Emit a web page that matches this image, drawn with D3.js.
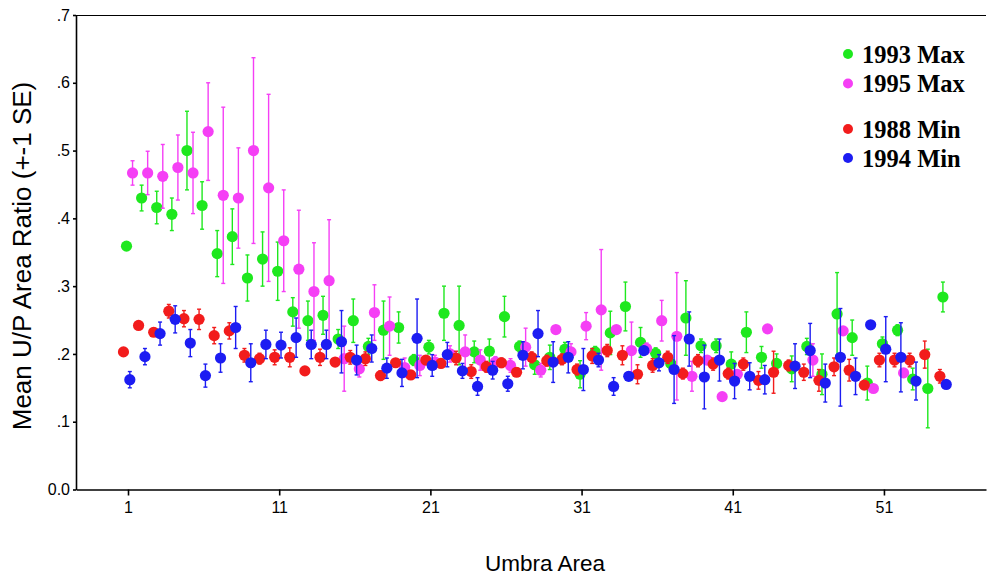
<!DOCTYPE html>
<html><head><meta charset="utf-8">
<script src="https://cdn.jsdelivr.net/npm/d3@7/dist/d3.min.js"></script>
<style>body{margin:0;background:#fff}svg{display:block}</style>
</head><body><svg id="c" width="994" height="577"></svg>
<script>
// ---------------- data ----------------
const categories = d3.range(1, 56);               // Umbra Area 1..55
const xTickValues = [1, 11, 21, 31, 41, 51];
const yTickValues = [0, 0.1, 0.2, 0.3, 0.4, 0.5, 0.6, 0.7];
const yTickLabels = ["0.0", ".1", ".2", ".3", ".4", ".5", ".6", ".7"];
const seriesNames = ["1993 Max", "1995 Max", "1988 Min", "1994 Min"];

const max1993 = [0.359,0.430,0.416,0.406,0.500,0.419,0.348,0.373,0.312,0.340,
  0.322,0.262,0.249,0.257,0.222,0.249,0.211,0.235,0.239,0.191,
  0.210,0.260,0.242,0.203,0.204,0.255,0.211,0.184,0.195,0.207,
  0.170,0.203,0.231,0.270,0.217,0.201,0.186,0.253,0.212,0.212,
  0.185,0.232,0.195,0.186,0.178,0.211,0.170,0.259,0.224,0.157,
  0.215,0.235,0.163,0.149,0.284];
const max1993SE = [0.006,0.019,0.024,0.024,0.058,0.035,0.034,0.041,0.034,0.040,
  0.043,0.021,0.029,0.028,0.014,0.032,0.012,0.043,0.023,0.008,
  0.010,0.040,0.058,0.016,0.018,0.030,0.008,0.014,0.018,0.010,
  0.020,0.008,0.032,0.036,0.022,0.008,0.008,0.055,0.010,0.010,
  0.018,0.030,0.016,0.014,0.019,0.012,0.030,0.061,0.026,0.025,
  0.010,0.008,0.016,0.058,0.022];

const max1995 = [0.467,0.467,0.462,0.475,0.467,0.528,0.434,0.430,0.500,0.445,
  0.367,0.325,0.292,0.308,0.193,0.178,0.261,0.241,0.180,0.183,
  0.188,0.200,0.203,0.191,0.188,0.183,0.210,0.176,0.236,0.203,
  0.241,0.265,0.236,0.205,0.208,0.249,0.226,0.167,0.191,0.137,
  0.170,null,0.237,null,null,0.191,null,0.234,null,0.149,
  null,0.172,null,null,null];
const max1995SE = [0.018,0.032,0.047,0.048,0.060,0.072,0.130,0.074,0.137,0.138,
  0.075,0.087,0.072,0.090,0.048,0.012,0.041,0.043,0.014,0.015,
  0.010,0.012,0.025,0.015,0.008,0.010,0.028,0.010,0.005,0.012,
  0.020,0.089,0.005,0.042,0.008,0.030,0.094,0.022,0.005,0.004,
  0.005,null,0.004,null,null,0.024,null,0.005,null,0.004,
  null,0.004,null,null,null];

const min1988 = [0.203,0.242,0.232,0.263,0.252,0.251,0.227,0.234,0.198,0.193,
  0.195,0.195,0.175,0.195,0.188,0.195,0.193,0.168,0.187,0.169,
  0.191,0.186,0.194,0.174,0.181,0.187,0.173,0.195,0.190,0.192,
  0.177,0.197,0.205,0.198,0.170,0.183,0.195,0.171,0.190,0.185,
  0.171,0.185,0.161,0.173,0.183,0.173,0.161,0.181,0.176,0.154,
  0.191,0.191,0.191,0.199,0.167];
const min1988SE = [0.004,0.005,0.006,0.010,0.012,0.015,0.012,0.012,0.010,0.008,
  0.011,0.014,0.006,0.012,0.006,0.010,0.010,0.007,0.006,0.006,
  0.006,0.006,0.010,0.010,0.008,0.007,0.006,0.008,0.008,0.008,
  0.008,0.011,0.009,0.014,0.014,0.010,0.009,0.008,0.009,0.009,
  0.008,0.009,0.013,0.031,0.008,0.012,0.016,0.013,0.016,0.006,
  0.010,0.010,0.010,0.020,0.010];

const min1994 = [0.162,0.196,0.230,0.251,0.216,0.168,0.194,0.239,0.187,0.214,
  0.213,0.224,0.214,0.214,0.218,0.191,0.208,0.179,0.172,0.223,
  0.183,0.199,0.175,0.152,0.176,0.156,0.198,0.230,0.188,0.195,
  0.177,0.191,0.152,0.167,0.205,0.187,0.177,0.222,0.166,0.191,
  0.160,0.167,0.162,null,0.182,0.205,0.157,0.195,0.167,0.243,
  0.207,0.195,0.160,null,0.155];
const min1994SE = [0.012,0.012,0.017,0.020,0.020,0.017,0.021,0.031,0.028,0.021,
  0.019,0.029,0.021,0.021,0.046,0.022,0.020,0.015,0.020,0.058,
  0.016,0.018,0.011,0.013,0.013,0.011,0.020,0.034,0.030,0.023,
  0.031,0.010,0.013,0.006,0.006,0.012,0.050,0.040,0.047,0.031,
  0.026,0.020,0.021,null,0.033,0.040,0.028,0.072,0.027,0.006,
  0.048,0.051,0.028,null,0.005];

// ---------------- styling / layout ----------------
const colors = {"1993 Max": "#1ee81e", "1995 Max": "#f53ff5", "1988 Min": "#f21c1c", "1994 Min": "#1c1cf2"};
const dodge = {"1988 Min": -0.30, "1993 Max": -0.10, "1994 Min": 0.12, "1995 Max": 0.30};
const series = [
  {name: "1993 Max", values: max1993, se: max1993SE},
  {name: "1995 Max", values: max1995, se: max1995SE},
  {name: "1988 Min", values: min1988, se: min1988SE},
  {name: "1994 Min", values: min1994, se: min1994SE}
];

const svg = d3.select("#c");
const L = 76, R = 986, T = 15, B = 489.5;
const x = d3.scaleLinear().domain([-2.44, 57.75]).range([L, R]);
const y = d3.scaleLinear().domain([0, 0.7]).range([B, T]);

// top border
svg.append("line").attr("x1", L).attr("x2", R).attr("y1", T + 0.5).attr("y2", T + 0.5)
  .attr("stroke", "#000").attr("stroke-width", 1);

// axes
const xAxis = svg.append("g").attr("transform", `translate(0,${B})`)
  .call(d3.axisBottom(x).tickValues(xTickValues).tickSize(6).tickSizeOuter(0).tickPadding(6).tickFormat(d3.format("d")));
const yAxis = svg.append("g").attr("transform", `translate(${L},0)`)
  .call(d3.axisLeft(y).tickValues(yTickValues).tickSize(3).tickSizeOuter(0).tickPadding(3)
    .tickFormat((d, i) => yTickLabels[i]));
[xAxis, yAxis].forEach(g => {
  g.selectAll("text").attr("font-family", "'Liberation Sans', Arial, sans-serif").attr("font-size", 16).attr("fill", "#000");
  g.selectAll("line, path").attr("stroke", "#000").attr("stroke-width", 1.6);
});

// titles
svg.append("text").attr("x", 545).attr("y", 571).attr("text-anchor", "middle")
  .attr("font-family", "'Liberation Sans', Arial, sans-serif").attr("font-size", 22.5).text("Umbra Area");
svg.append("text").attr("transform", "translate(31,256) rotate(-90)").attr("text-anchor", "middle")
  .attr("font-family", "'Liberation Sans', Arial, sans-serif").attr("font-size", 26).text("Mean U/P Area Ratio (+-1 SE)");

// marks
const plot = svg.append("g");
series.forEach(s => {
  const pts = categories.map((c, i) => ({c, v: s.values[i], e: s.se[i]})).filter(d => d.v != null);
  const g = plot.append("g");
  const col = colors[s.name];
  const px = d => x(d.c + dodge[s.name]);
  g.selectAll("line.eb").data(pts).join("line").attr("class", "eb")
    .attr("x1", px).attr("x2", px).attr("y1", d => y(d.v - d.e)).attr("y2", d => y(d.v + d.e))
    .attr("stroke", col).attr("stroke-width", 1.4);
  ["lo", "hi"].forEach(k => {
    g.selectAll("line.cap" + k).data(pts).join("line").attr("class", "cap" + k)
      .attr("x1", d => px(d) - 2).attr("x2", d => px(d) + 2)
      .attr("y1", d => y(k === "lo" ? d.v - d.e : d.v + d.e)).attr("y2", d => y(k === "lo" ? d.v - d.e : d.v + d.e))
      .attr("stroke", col).attr("stroke-width", 1.4);
  });
  g.selectAll("circle").data(pts).join("circle")
    .attr("cx", px).attr("cy", d => y(d.v)).attr("r", 5.6).attr("fill", col);
});

// legend
const legendY = [54, 83.5, 129, 158];
const leg = svg.append("g");
seriesNames.forEach((n, i) => {
  leg.append("circle").attr("cx", 848).attr("cy", legendY[i]).attr("r", 5).attr("fill", colors[n]);
  leg.append("text").attr("x", 862).attr("y", legendY[i] + 8.5)
    .attr("font-family", "'Liberation Serif', 'Times New Roman', serif").attr("font-weight", "bold")
    .attr("font-size", 24.5).text(n);
});
</script>
</body></html>
